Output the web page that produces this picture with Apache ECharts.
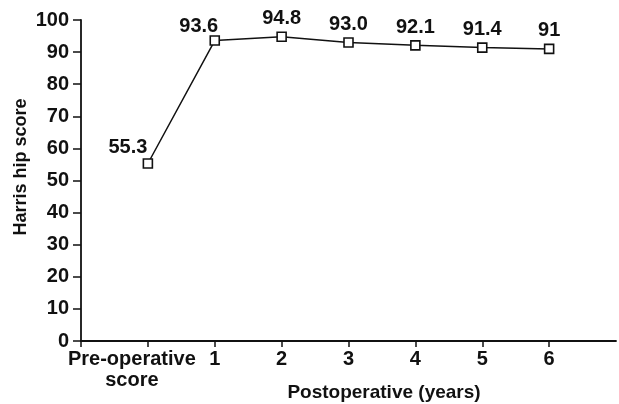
<!DOCTYPE html>
<html>
<head>
<meta charset="utf-8">
<script src="https://cdn.jsdelivr.net/npm/echarts@6/dist/echarts.min.js"></script>
<style>
	html, body {margin: 0; padding: 0; background: #fff;}
	#chart {width: 619px; height: 404px;}
</style>
</head>
<body>
<div id="chart"></div>
<script>
// categories: blank slot at the origin and one spare slot at the right end
var categories = ['', 'Pre-operative\nscore', '1', '2', '3', '4', '5', '6', ''];
var scores = [null, 55.3, 93.6, 94.8, 93.0, 92.1, 91.4, 91, null];
var scoreLabels = ['', '55.3', '93.6', '94.8', '93.0', '92.1', '91.4', '91', ''];

var font = 'Liberation Sans, Arial, sans-serif';
var ink = '#111';

var e = echarts.init(document.getElementById('chart'));

// first two labels sit up and to the left of their point
var labelOffsets = {1: [-20, 2], 2: [-16, 4]};
var seriesData = scores.map(function(v, i){
	var d = {value: v};
	if (labelOffsets[i]) d.label = {offset: labelOffsets[i]};
	return d;
});
// the pre-operative label is set a little left of its tick
var xData = categories.map(function(c, i){
	return i === 1 ? {value: c, textStyle: {padding: [0, 32, 0, 0]}} : c;
});

var u = {
	animation: false,
	grid: {left: 81, right: 0, top: 20, bottom: 63},
	xAxis: {
		type: 'category',
		boundaryGap: false,
		data: xData,
		axisLine: {lineStyle: {color: ink, width: 1.8}},
		axisTick: {
			length: 6,
			lineStyle: {color: ink, width: 1.5},
			interval: function(i, val){ return i === 0 || val !== ''; }
		},
		axisLabel: {
			interval: 0,
			margin: 8,
			color: ink,
			fontFamily: font,
			fontWeight: 'bold',
			fontSize: 20,
			lineHeight: 21
		}
	},
	yAxis: {
		type: 'value',
		min: 0,
		max: 100,
		interval: 10,
		axisLine: {show: true, lineStyle: {color: ink, width: 1.8}},
		axisTick: {show: true, length: 8, lineStyle: {color: ink, width: 1.5}},
		axisLabel: {margin: 12, color: ink, fontFamily: font, fontWeight: 'bold', fontSize: 20},
		splitLine: {show: false}
	},
	series: [{
		type: 'line',
		data: seriesData,
		symbol: 'rect',
		symbolSize: 9,
		lineStyle: {color: ink, width: 1.5},
		itemStyle: {color: '#fff', borderColor: ink, borderWidth: 1.6},
		label: {
			show: true,
			position: 'top',
			distance: 3,
			color: ink,
			fontFamily: font,
			fontWeight: 'bold',
			fontSize: 20,
			formatter: function(p){ return scoreLabels[p.dataIndex]; }
		}
	}],
	graphic: [{
		type: 'text',
		x: 21,
		y: 167,
		rotation: Math.PI / 2,
		style: {
			text: 'Harris hip score', fill: ink, align: 'center', verticalAlign: 'middle',
			font: 'bold 18px ' + font
		}
	}, {
		type: 'text',
		x: 384,
		y: 393,
		style: {
			text: 'Postoperative (years)', fill: ink, align: 'center', verticalAlign: 'middle',
			font: 'bold 19px ' + font
		}
	}]
};
e.setOption(u);
</script>
</body>
</html>
